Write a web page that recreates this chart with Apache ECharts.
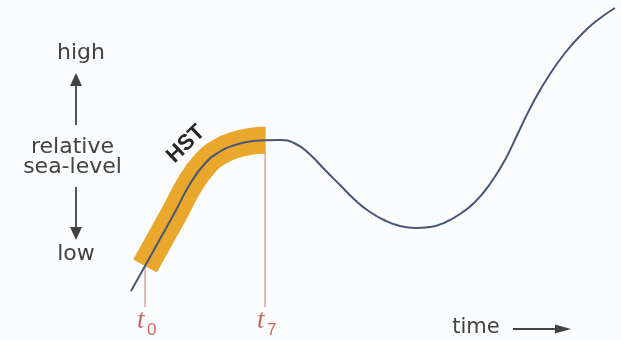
<!DOCTYPE html>
<html>
<head>
<meta charset="utf-8">
<script src="https://cdn.jsdelivr.net/npm/echarts@6/dist/echarts.min.js"></script>
<style>
  html, body { margin: 0; padding: 0; background: #fafcfd; }
  #chart { width: 621px; height: 340px; }
</style>
</head>
<body>
<div id="chart"></div>
<script>
// Relative sea-level through time (arbitrary units, level increases upward)
const curveTime  = [131, 145, 160, 175, 190, 205, 220, 235, 250, 265, 280, 295, 310, 325, 340, 355, 370, 385, 400, 415, 430, 445, 460, 475, 490, 505, 520, 535, 550, 565, 580, 595, 615];
const curveLevel = [49, 74, 101, 128, 156, 176.5, 188.5, 195, 198.5, 199.7, 200, 196.5, 185.5, 170, 155, 140, 128, 119.5, 114, 112, 113, 117.5, 126, 138, 156, 180, 211, 241, 266, 287, 304, 318, 332];

// Highstand systems tract spans t0 .. t7
const hstStart = 145;
const hstEnd = 265;

// Time markers and their subscripts
const eventTimes = [145, 265];
const eventSubs = ['0', '7'];
const eventBaseLevel = 33;

const BAND_WIDTH = 27;
const INK = '#424242';
const RED = '#c96a63';

const curveData = curveTime.map((t, i) => [t, curveLevel[i]]);
const hstData = curveData.filter(p => p[0] >= hstStart && p[0] <= hstEnd);
const levelAt = t => curveLevel[curveTime.indexOf(t)];

const chart = echarts.init(document.getElementById('chart'), null, { renderer: 'canvas' });

const eventSeries = eventTimes.map((t, i) => ({
  type: 'line',
  z: 1,
  symbol: 'none',
  silent: true,
  lineStyle: { color: '#d9a09c', width: 1.4 },
  data: [[t, eventBaseLevel], [t, levelAt(t) + BAND_WIDTH / 2]]
}));

chart.setOption({
  animation: false,
  backgroundColor: '#fafcfd',
  grid: { left: 0, right: 0, top: 0, bottom: 0, containLabel: false },
  xAxis: { type: 'value', min: 0, max: 621, show: false },
  yAxis: { type: 'value', min: 0, max: 340, show: false },
  series: [
    ...eventSeries,
    {
      name: 'HST',
      type: 'line',
      z: 2,
      symbol: 'none',
      smooth: 0.5,
      lineStyle: { color: '#e9a82c', width: BAND_WIDTH, cap: 'butt' },
      data: hstData
    },
    {
      name: 'sea level',
      type: 'line',
      z: 3,
      symbol: 'none',
      smooth: 0.5,
      lineStyle: { color: '#4a5677', width: 2 },
      data: curveData
    }
  ]
});

// Annotations: axis captions, arrows and time markers
const textStyle = (txt, x, y, size, extra) => ({
  type: 'text',
  x, y,
  style: Object.assign({
    text: txt,
    fill: INK,
    font: size + 'px "DejaVu Sans"',
    align: 'center',
    verticalAlign: 'middle'
  }, extra || {})
});

const arrow = (x1, y1, x2, y2, head, halfW) => {
  const dx = x2 - x1, dy = y2 - y1;
  const len = Math.hypot(dx, dy);
  const ux = dx / len, uy = dy / len;
  const bx = x2 - ux * head, by = y2 - uy * head;
  return [
    { type: 'line', shape: { x1, y1, x2: bx, y2: by }, style: { stroke: INK, lineWidth: 1.8 } },
    { type: 'polygon', shape: { points: [[x2, y2], [bx - uy * halfW, by + ux * halfW], [bx + uy * halfW, by - ux * halfW]] }, style: { fill: INK } }
  ];
};

const graphics = [
  textStyle('high', 81, 53, 22),
  ...arrow(76, 125, 76, 73, 13, 6),
  textStyle('relative', 72.5, 147, 22),
  textStyle('sea-level', 72.5, 167, 22),
  ...arrow(76, 187, 76, 240, 13, 6),
  textStyle('low', 76, 254, 22),
  textStyle('time', 476, 328, 21),
  ...arrow(513, 329, 571, 329, 16, 4.5),
  {
    type: 'text',
    x: 186, y: 144,
    rotation: 0.77,
    style: {
      text: 'HST',
      fill: '#262626',
      font: 'bold 22px "Liberation Sans"',
      align: 'center',
      verticalAlign: 'middle'
    }
  }
];

eventTimes.forEach((t, i) => {
  const px = chart.convertToPixel({ gridIndex: 0 }, [t, eventBaseLevel])[0];
  graphics.push({
    type: 'text', x: px - 8, y: 334,
    style: { text: 't', fill: RED, font: 'italic 27px "Liberation Serif"', align: 'left', verticalAlign: 'bottom' }
  });
  graphics.push({
    type: 'text', x: px + 2, y: 339,
    style: { text: eventSubs[i], fill: RED, font: '17px "Liberation Sans"', align: 'left', verticalAlign: 'bottom' }
  });
});

chart.setOption({ graphic: graphics });
</script>
</body>
</html>
